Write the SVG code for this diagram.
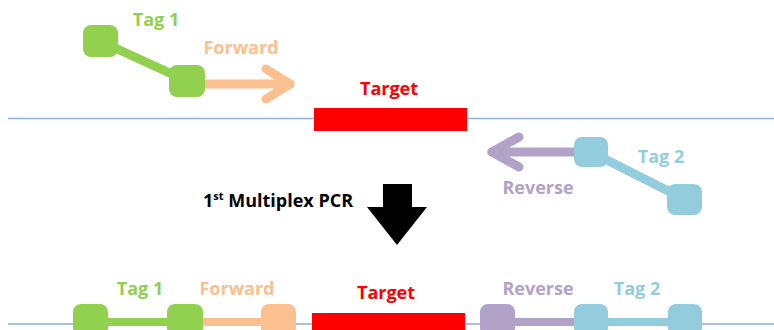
<svg xmlns="http://www.w3.org/2000/svg" width="774" height="330" viewBox="0 0 774 330">
<style>
text{font-family:"Open Sans","Liberation Sans",sans-serif;font-weight:bold;font-size:18px;text-anchor:middle}
.g{fill:#92D050}.o{fill:#FAC090}.p{fill:#B3A2C7}.b{fill:#93CDDD}.r{fill:#FF0000}
.gs{stroke:#92D050}.os{stroke:#FAC090}.ps{stroke:#B3A2C7}.bs{stroke:#93CDDD}
.ln{fill:none;stroke-width:9;stroke-linecap:round;stroke-linejoin:round}
</style>
<rect width="774" height="330" fill="#fff"/>
<g id="connectors">
<line x1="8" y1="118.5" x2="774" y2="118.5" stroke="#8EB4E3" stroke-width="1.5"/>
<line x1="8" y1="324" x2="774" y2="324" stroke="#4F81BD" stroke-width="1.2"/>
<line class="ln gs" x1="100" y1="41" x2="187" y2="81"/>
<polyline class="ln os" points="205,84 290,84"/>
<polyline class="ln os" points="266,69 290,84 266,99"/>
<line class="ln bs" x1="591" y1="152" x2="684" y2="199"/>
<polyline class="ln ps" points="574,152 492,152"/>
<polyline class="ln ps" points="519,137 492,152 519,167"/>
<line x1="90" y1="322" x2="280" y2="322" stroke="#92D050" stroke-width="8"/>
<line x1="203" y1="322" x2="280" y2="322" stroke="#FAC090" stroke-width="8"/>
<line x1="497" y1="322" x2="591" y2="322" stroke="#B3A2C7" stroke-width="8"/>
<line x1="591" y1="322" x2="685" y2="322" stroke="#93CDDD" stroke-width="8"/>
</g>
<g id="tag1-top">
<rect class="g" x="83" y="25" width="35" height="32" rx="8"/>
<rect class="g" x="169" y="65" width="36" height="32" rx="8"/>
<text class="g" x="156" y="26">Tag 1</text>
</g>
<g id="forward-top"><text class="o" x="241" y="54">Forward</text></g>
<g id="target-top">
<rect class="r" x="314" y="108" width="153" height="23"/>
<text class="r" x="389" y="95">Target</text>
</g>
<g id="tag2-top">
<rect class="b" x="574" y="137" width="34" height="30" rx="8"/>
<rect class="b" x="667" y="184" width="35" height="31" rx="8"/>
<text class="b" x="661" y="163">Tag 2</text>
</g>
<g id="reverse-top"><text class="p" x="538" y="194">Reverse</text></g>
<g id="pcr-step">
<text x="203" y="207" style="text-anchor:start;fill:#000">1<tspan font-size="11" dy="-7">st</tspan><tspan dy="7"> Multiplex PCR</tspan></text>
<polygon points="383,184 412,184 412,207 427,207 397,245 367,207 383,207" fill="#000"/>
</g>
<g id="tag1-bottom">
<rect class="g" x="73" y="304" width="35" height="32" rx="8"/>
<rect class="g" x="167" y="304" width="36" height="32" rx="8"/>
<text class="g" x="140" y="295">Tag 1</text>
</g>
<g id="forward-bottom">
<rect class="o" x="261" y="304" width="35" height="32" rx="8"/>
<text class="o" x="237" y="295">Forward</text>
</g>
<g id="target-bottom">
<rect class="r" x="312" y="313" width="153" height="23"/>
<text class="r" x="386" y="299">Target</text>
</g>
<g id="reverse-bottom">
<rect class="p" x="480" y="304" width="35" height="32" rx="8"/>
<text class="p" x="538" y="295">Reverse</text>
</g>
<g id="tag2-bottom">
<rect class="b" x="574" y="304" width="34" height="32" rx="8"/>
<rect class="b" x="668" y="304" width="34" height="32" rx="8"/>
<text class="b" x="637" y="295">Tag 2</text>
</g>
</svg>
